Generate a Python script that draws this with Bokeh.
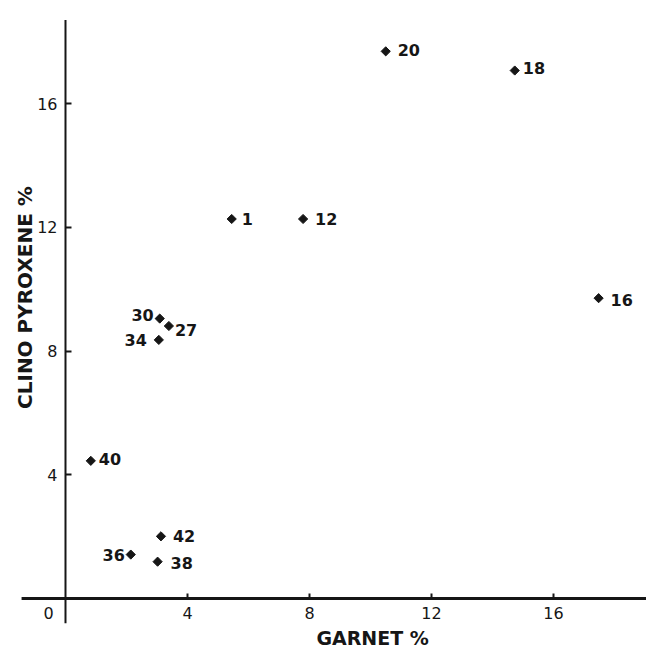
import math
from bokeh.plotting import figure
from bokeh.models import Range1d, LinearAxis, FixedTicker
from bokeh.core.properties import value
from bokeh.embed import file_html
from bokeh.resources import INLINE

# ---- data ----
samples = ["20", "18", "1", "12", "16", "30", "27", "34", "40", "42", "36", "38"]
garnet = [10.50, 14.73, 5.45, 7.79, 17.48, 3.09, 3.39, 3.06, 0.83, 3.13, 2.14, 3.02]
clinopyroxene = [17.69, 17.07, 12.27, 12.27, 9.71, 9.05, 8.81, 8.36, 4.45, 2.01, 1.42, 1.19]
x_ticks = [4, 8, 12, 16]
y_ticks = [4, 8, 12, 16]
x_title = "GARNET %"
y_title = "CLINO PYROXENE %"

# ---- label placement (styling) ----
label_dx = [12, 8, 10, 12, 12, -6, 6, -12, 8, 12, -6, 13]
label_dy = [-1, -3, 0, 0, 2, -4, 4, 0, -2, 0, 0, 1]
label_align = ["left", "left", "left", "left", "left", "right", "left", "right",
               "left", "left", "right", "left"]

INK = "#161616"
FONT = value("DejaVu Sans")

p = figure(width=646, height=651,
           x_range=Range1d(-2.131, 19.05), y_range=Range1d(-1.714, 19.334),
           x_axis_type=None, y_axis_type=None,
           toolbar_location=None, output_backend="svg",
           min_border=0, outline_line_color=None)

xaxis = LinearAxis(fixed_location=0, ticker=FixedTicker(ticks=x_ticks),
                   axis_line_color=None, major_tick_in=5, major_tick_out=0,
                   major_tick_line_width=2, major_tick_line_color=INK,
                   minor_tick_line_color=None,
                   major_label_text_font="DejaVu Sans",
                   major_label_text_font_size="16px",
                   major_label_text_color=INK, major_label_standoff=9)
yaxis = LinearAxis(fixed_location=0, ticker=FixedTicker(ticks=y_ticks),
                   axis_line_color=None, major_tick_in=6, major_tick_out=0,
                   major_tick_line_width=2, major_tick_line_color=INK,
                   minor_tick_line_color=None,
                   major_label_text_font="DejaVu Sans",
                   major_label_text_font_size="16px",
                   major_label_text_color=INK, major_label_standoff=8)
p.add_layout(xaxis, "below")
p.add_layout(yaxis, "left")

# axis lines (crossing at the origin)
p.segment(x0=[-1.44, 0], y0=[0, -0.8], x1=[19.5, 0], y1=[0, 18.7],
          line_color=INK, line_width=[3, 2])

# origin label
p.text(x=[0], y=[0], text=["0"], x_offset=-17, y_offset=9,
       text_align="center", text_baseline="top", text_font=FONT,
       text_font_size="16px", text_color=INK)

# points
p.scatter(garnet, clinopyroxene, marker="square", angle=math.pi / 4, size=6.5,
          fill_color=INK, line_color=INK)

# point labels
p.text(x=garnet, y=clinopyroxene, text=samples, x_offset=label_dx,
       y_offset=label_dy, text_align=label_align, text_baseline="middle",
       text_font=FONT, text_font_style="bold", text_font_size="16px",
       text_color=INK)

# axis titles
p.text(x=[10.07], y=[-1.28], text=[x_title], text_align="center",
       text_baseline="middle", text_font=FONT, text_font_style="bold",
       text_font_size="19px", text_color=INK)
p.text(x=[-1.32], y=[9.73], text=[y_title], angle=math.pi / 2,
       text_align="center", text_baseline="middle", text_font=FONT,
       text_font_style="bold", text_font_size="20px", text_color=INK)

open("out.html", "w").write(file_html(p, INLINE))
